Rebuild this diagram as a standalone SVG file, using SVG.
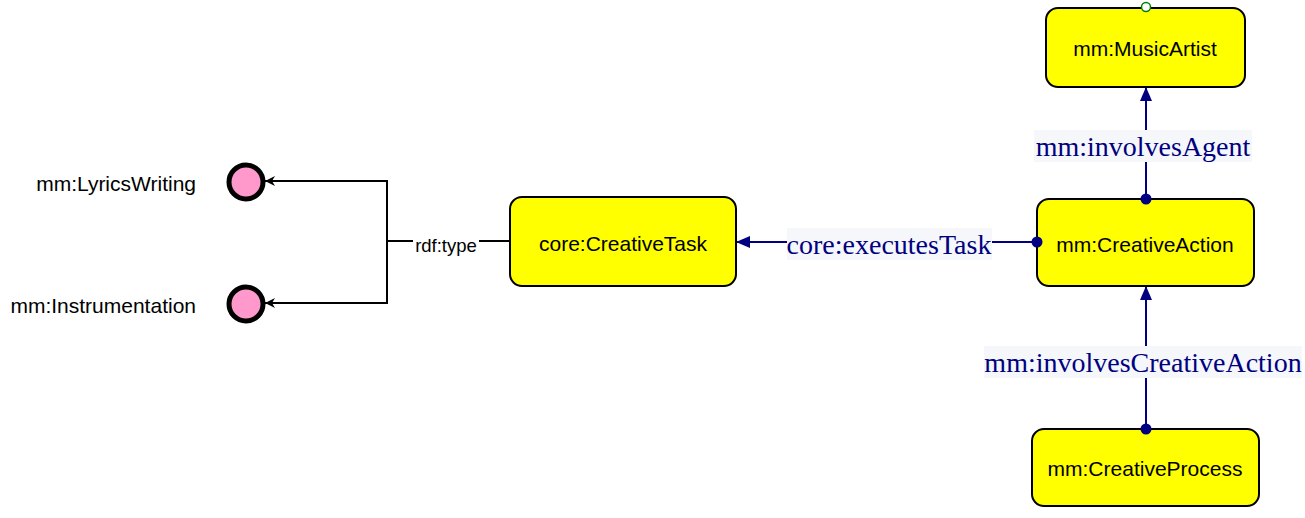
<svg xmlns="http://www.w3.org/2000/svg" width="1305" height="518" viewBox="0 0 1305 518">
<style>
.node rect{fill:#ffff00;stroke:#000;stroke-width:2}
.nt{font-family:"Liberation Sans",Arial,sans-serif;font-size:21px;fill:#000;text-anchor:middle;dominant-baseline:central}
.lt{font-family:"Liberation Sans",Arial,sans-serif;font-size:21px;fill:#000;text-anchor:end;dominant-baseline:central}
.ind{fill:#ff99cc;stroke:#000;stroke-width:5}
.blk{fill:none;stroke:#000;stroke-width:2}
.nav{fill:none;stroke:#000080;stroke-width:2}
.elb{fill:#f5f7fa}
.el{font-family:"Liberation Serif","Times New Roman",serif;font-size:28px;fill:#000080;text-anchor:middle;dominant-baseline:central}
.rl{font-family:"Liberation Sans",Arial,sans-serif;font-size:18.5px;fill:#000;text-anchor:middle;dominant-baseline:central}
</style>
<defs>
<marker id="bk" viewBox="0 0 12 12" refX="11" refY="6" markerWidth="12" markerHeight="12" markerUnits="userSpaceOnUse" orient="auto"><path d="M11,6 L1,1 L4,6 L1,11 Z" fill="#000"/></marker>
<marker id="na" viewBox="0 0 14 14" refX="13" refY="7" markerWidth="14" markerHeight="14" markerUnits="userSpaceOnUse" orient="auto"><path d="M0,1 L14,7 L0,13 Z" fill="#000080"/></marker>
<marker id="nd" viewBox="0 0 12 12" refX="6" refY="6" markerWidth="12" markerHeight="12" markerUnits="userSpaceOnUse"><circle cx="6" cy="6" r="5.5" fill="#000080"/></marker>
</defs>
<g id="n-musicartist" class="node"><rect x="1046" y="8" width="199" height="79" rx="12"/><text class="nt" x="1145" y="48">mm:MusicArtist</text><circle cx="1146" cy="7" r="4.5" fill="#fff" stroke="#008000" stroke-width="1.5"/></g>
<g id="n-creativeaction" class="node"><rect x="1037" y="199" width="217" height="87" rx="12"/><text class="nt" x="1145" y="244">mm:CreativeAction</text></g>
<g id="n-creativetask" class="node"><rect x="510" y="197" width="226" height="89" rx="12"/><text class="nt" x="623" y="243">core:CreativeTask</text></g>
<g id="n-creativeprocess" class="node"><rect x="1032" y="429" width="227" height="77" rx="12"/><text class="nt" x="1145" y="468">mm:CreativeProcess</text></g>
<g id="n-lyrics"><circle class="ind" cx="246" cy="182" r="17"/><text class="lt" x="196" y="183">mm:LyricsWriting</text></g>
<g id="n-instr"><circle class="ind" cx="246" cy="304" r="17"/><text class="lt" x="196" y="305">mm:Instrumentation</text></g>
<g id="connectors">
<path class="blk" d="M510,241 H387 V181 H265" marker-end="url(#bk)"/>
<path class="blk" d="M387,241 V303 H265" marker-end="url(#bk)"/>
<rect x="413" y="234" width="66" height="21" fill="#fff"/>
<text class="rl" x="446" y="245">rdf:type</text>
<path class="nav" d="M1037,242 H737" marker-start="url(#nd)" marker-end="url(#na)"/>
<rect class="elb" x="787" y="228" width="205" height="32"/>
<text class="el" x="889" y="244">core:executesTask</text>
<path class="nav" d="M1146,199 V88" marker-start="url(#nd)" marker-end="url(#na)"/>
<rect class="elb" x="1034" y="130" width="218" height="32"/>
<text class="el" x="1143" y="146">mm:involvesAgent</text>
<path class="nav" d="M1146,429 V287" marker-start="url(#nd)" marker-end="url(#na)"/>
<rect class="elb" x="984" y="346" width="318" height="32"/>
<text class="el" x="1143" y="362">mm:involvesCreativeAction</text>
</g>
</svg>
